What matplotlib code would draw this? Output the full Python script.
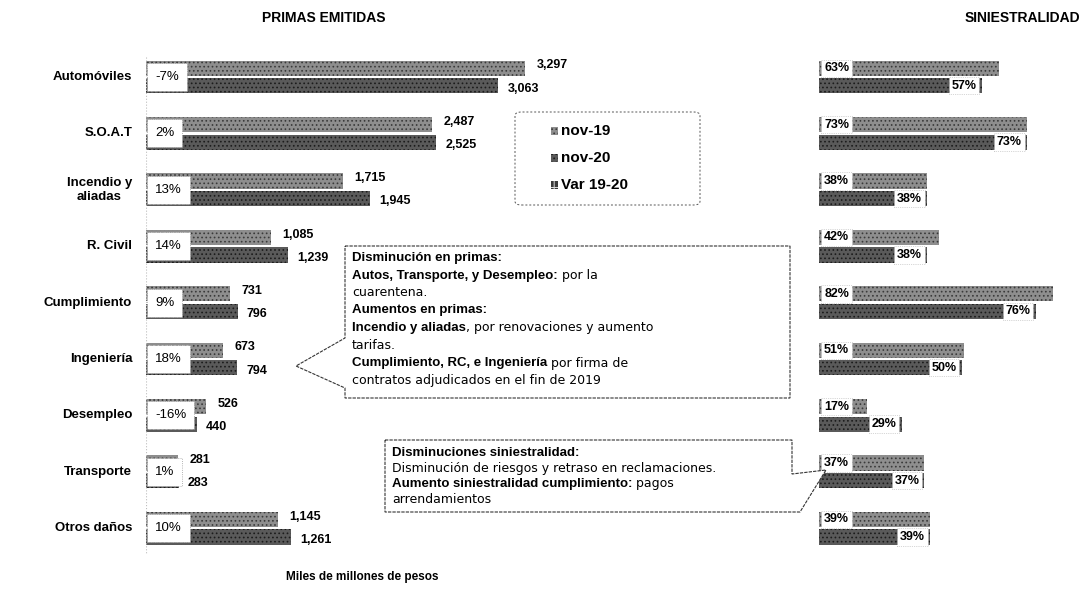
import matplotlib
matplotlib.use("Agg")
import matplotlib.pyplot as plt
from matplotlib.patches import Polygon, FancyBboxPatch, Rectangle

plt.rcParams['font.family'] = ['Liberation Sans', 'DejaVu Sans']
plt.rcParams['hatch.linewidth'] = 0.7

# ---------------- data ----------------
categories = ["Automóviles", "S.O.A.T", "Incendio y\naliadas", "R. Civil", "Cumplimiento",
              "Ingeniería", "Desempleo", "Transporte", "Otros daños"]
primas_nov19 = [3297, 2487, 1715, 1085, 731, 673, 526, 281, 1145]
primas_nov20 = [3063, 2525, 1945, 1239, 796, 794, 440, 283, 1261]
var_19_20 = [-7, 2, 13, 14, 9, 18, -16, 1, 10]
sini_nov19 = [63, 73, 38, 42, 82, 51, 17, 37, 39]
sini_nov20 = [57, 73, 38, 38, 76, 50, 29, 37, 39]
series_labels = ["nov-19", "nov-20", "Var 19-20"]

W, H = 1087, 608
fig = plt.figure(figsize=(W / 100, H / 100), dpi=100)
fig.patch.set_facecolor("white")


def px(x, y):
    return (x / W, 1 - y / H)


# y mapping: row i centre at pixel 77 + 56.4*i
top_px, bot_px = 40, 570
y_top = (top_px - 77) / 56.4
y_bot = (bot_px - 77) / 56.4
ax_b = 1 - bot_px / H
ax_h = (bot_px - top_px) / H

axL = fig.add_axes([146 / W, ax_b, (560 - 146) / W, ax_h])
axR = fig.add_axes([819 / W, ax_b, (1087 - 819) / W, ax_h])

c19 = dict(facecolor="#8e8e8e", edgecolor="#3a3a3a", hatch="....", linewidth=0)
c20 = dict(facecolor="#5a5a5a", edgecolor="#1c1c1c", hatch="....", linewidth=0)
cvar = dict(facecolor="#3a3a3a", edgecolor="#dddddd", hatch="++", linewidth=0)

off = 0.155
bh = 0.27
idx = list(range(len(categories)))

# ---------------- left chart ----------------
axL.barh([i - off for i in idx], primas_nov19, height=bh, **c19)
axL.barh([i + off for i in idx], primas_nov20, height=bh, **c20)
axL.set_xlim(0, 3600)
axL.set_ylim(y_bot, y_top)
axL.axis("off")
axL.plot([0, 0], [y_top + 0.3, 8.45], color="#bdbdbd", lw=0.8, ls=":")

for i in idx:
    axL.text(primas_nov19[i] + 100, i - off - 0.05, f"{primas_nov19[i]:,}",
             ha="left", va="center", fontsize=9, fontweight="bold")
    axL.text(primas_nov20[i] + 80, i + off + 0.05, f"{primas_nov20[i]:,}",
             ha="left", va="center", fontsize=9, fontweight="bold")
    axL.text(80, i, f"{var_19_20[i]}%", ha="left", va="center", fontsize=9.5,
             bbox=dict(boxstyle="square,pad=0.6", fc="white", ec="#9a9a9a", lw=0.6, ls=":"))
    axL.text(-120, i, categories[i], ha="right", va="center", fontsize=9.5,
             fontweight="bold", multialignment="center")

# ---------------- right chart ----------------
axR.barh([i - off for i in idx], sini_nov19, height=bh, **c19)
axR.barh([i + off for i in idx], sini_nov20, height=bh, **c20)
axR.set_xlim(0, 94)
axR.set_ylim(y_bot, y_top)
axR.axis("off")
for i in idx:
    axR.text(1.8, i - off, f"{sini_nov19[i]}%", ha="left", va="center", fontsize=9,
             fontweight="bold",
             bbox=dict(boxstyle="square,pad=0.22", fc="white", ec="#b0b0b0", lw=0.5, ls=":"))
    axR.text(sini_nov20[i] - 1.8, i + off, f"{sini_nov20[i]}%", ha="right", va="center",
             fontsize=9, fontweight="bold",
             bbox=dict(boxstyle="square,pad=0.22", fc="white", ec="#b0b0b0", lw=0.5, ls=":"))

# ---------------- titles ----------------
fig.text(*px(324, 18), "PRIMAS EMITIDAS", ha="center", va="center", fontsize=10,
         fontweight="bold")
fig.text(*px(1022, 18), "SINIESTRALIDAD", ha="center", va="center", fontsize=10,
         fontweight="bold")
fig.text(*px(362, 577), "Miles de millones de pesos", ha="center", va="center",
         fontsize=8.5, fontweight="bold")

# ---------------- legend (drawn manually) ----------------
lx0, ly0 = px(515, 205)
lx1, ly1 = px(700, 112)
fig.add_artist(FancyBboxPatch((lx0, ly0), lx1 - lx0, ly1 - ly0,
                              boxstyle="round,pad=0,rounding_size=0.006",
                              transform=fig.transFigure, facecolor="white",
                              edgecolor="#555555", lw=0.7, ls=(0, (2, 2))))
for k, (lab, sty) in enumerate(zip(series_labels, [c19, c20, cvar])):
    yy = 131 + 27 * k
    sx, sy = px(551, yy + 4)
    fig.add_artist(Rectangle((sx, sy), 7 / W, 8 / H, transform=fig.transFigure, **sty))
    fig.text(*px(561, yy), lab, ha="left", va="center", fontsize=11, fontweight="bold")


# ---------------- callouts ----------------
def callout(points, lines, x0, y0, step, size):
    poly = Polygon([px(*p) for p in points], closed=True, transform=fig.transFigure,
                   facecolor="white", edgecolor="#333333", lw=0.8, ls=(0, (3, 1)))
    fig.add_artist(poly)
    r = fig.canvas.get_renderer()
    for k, segs in enumerate(lines):
        x = x0
        for txt, bold in segs:
            if bold:
                t = fig.text(*px(x, y0 + k * step), txt, ha="left", va="center",
                             fontsize=size, fontweight="bold", family="Liberation Sans")
            else:
                t = fig.text(*px(x, y0 + k * step), txt, ha="left", va="center",
                             fontsize=size - 0.5, family="DejaVu Sans")
            x += t.get_window_extent(renderer=r).width


box1 = [(345, 246), (790, 246), (790, 398), (345, 398), (345, 388), (296, 366), (345, 338)]
lines1 = [
    [("Disminución en primas:", True)],
    [("Autos, Transporte, y Desempleo:", True), (" por la", False)],
    [("cuarentena.", False)],
    [("Aumentos en primas:", True)],
    [("Incendio y aliadas", True), (", por renovaciones y aumento", False)],
    [("tarifas.", False)],
    [("Cumplimiento, RC, e Ingeniería", True), (" por firma de", False)],
    [("contratos adjudicados en el fin de 2019", False)],
]
callout(box1, lines1, 352, 258, 17.5, 9.5)

box2 = [(385, 440), (792, 440), (792, 474), (826, 470), (800, 512), (385, 512)]
lines2 = [
    [("Disminuciones siniestralidad:", True)],
    [("Disminución de riesgos y retraso en reclamaciones.", False)],
    [("Aumento siniestralidad cumplimiento:", True), (" pagos", False)],
    [("arrendamientos", False)],
]
callout(box2, lines2, 392, 453, 15.5, 9.5)

fig.savefig("out.png", dpi=100, facecolor="white")
